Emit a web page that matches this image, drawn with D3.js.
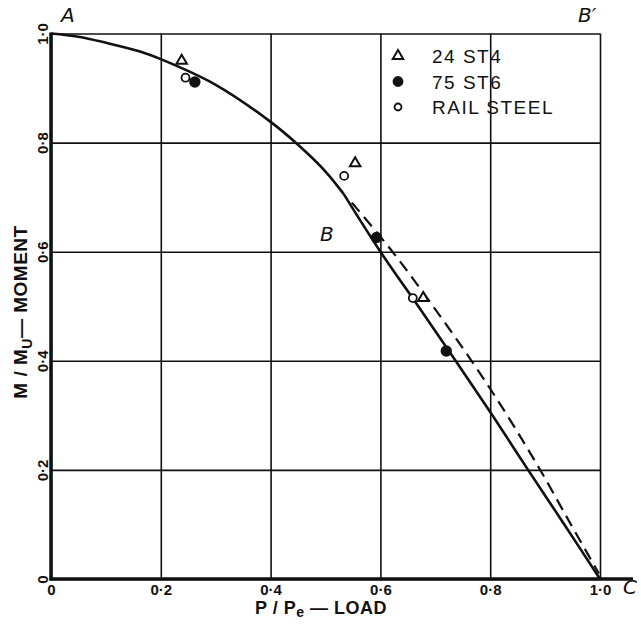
<!DOCTYPE html>
<html>
<head>
<meta charset="utf-8">
<script src="https://cdn.jsdelivr.net/npm/d3@7"></script>
<style>
  body { margin: 0; background: #fff; }
  svg { display: block; }
  text { fill: #111; }
</style>
</head>
<body>
<svg id="chart" width="641" height="624"></svg>
<script>
// tick values and labels
const xTicks = [0, 0.2, 0.4, 0.6, 0.8, 1.0];
const xTickLabels = ["0", "0·2", "0·4", "0·6", "0·8", "1·0"];
const yTicks = [0, 0.2, 0.4, 0.6, 0.8, 1.0];
const yTickLabels = ["0", "0·2", "0·4", "0·6", "0·8", "1·0"];

// interaction curve A - B (solid)
const upperX = [0, 0.05, 0.1, 0.162, 0.2, 0.3, 0.4, 0.45, 0.5, 0.533];
const upperY = [1.0, 0.994, 0.983, 0.967, 0.953, 0.906, 0.838, 0.796, 0.747, 0.706];
// B - C (solid)
const lowerX = [0.533, 0.6, 0.669, 0.737, 0.804, 0.869, 0.935, 1.0];
const lowerY = [0.706, 0.6, 0.5, 0.4, 0.3, 0.2, 0.1, 0];

// dashed branch B - C
const dashX = [0.548, 0.622, 0.696, 0.766, 0.831, 0.891, 0.947, 0.998];
const dashY = [0.69, 0.6, 0.5, 0.4, 0.3, 0.2, 0.1, 0.01];

// test points
const st4X = [0.238, 0.554, 0.678];
const st4Y = [0.950, 0.762, 0.515];
const st6X = [0.262, 0.593, 0.720];
const st6Y = [0.911, 0.626, 0.418];
const railX = [0.245, 0.534, 0.659];
const railY = [0.919, 0.739, 0.515];

const legendNames = ["24 ST4", "75 ST6", "RAIL STEEL"];

const svg = d3.select("#chart");

const x = d3.scaleLinear().domain([0, 1]).range([51, 600]);
const y = d3.scaleLinear().domain([0, 1]).range([579, 33.5]);

const gridH = y(0) - y(1);
const gridW = x(1) - x(0);
const sans = "Liberation Sans, Arial, sans-serif";

// vertical grid lines + x tick labels
const xAxis = svg.append("g")
    .attr("transform", `translate(0,${y(0)})`)
    .call(d3.axisBottom(x)
        .tickValues(xTicks)
        .tickSize(-gridH)
        .tickPadding(5)
        .tickFormat((d, i) => xTickLabels[i]));
xAxis.select(".domain").remove();
xAxis.selectAll(".tick line").attr("stroke", "#111").attr("stroke-width", 1.6);
xAxis.selectAll(".tick text")
    .attr("font-family", sans)
    .attr("font-size", 15).attr("font-weight", "bold").attr("fill", "#111");

// horizontal grid lines + y tick labels
const yAxis = svg.append("g")
    .attr("transform", `translate(${x(0)},0)`)
    .call(d3.axisLeft(y)
        .tickValues(yTicks)
        .tickSize(-gridW)
        .tickFormat((d, i) => yTickLabels[i]));
yAxis.select(".domain").remove();
yAxis.selectAll(".tick line").attr("stroke", "#111").attr("stroke-width", 1.6);
yAxis.selectAll(".tick text")
    .attr("font-family", sans)
    .attr("font-size", 15).attr("font-weight", "bold").attr("fill", "#111")
    .attr("text-anchor", "middle")
    .attr("x", null).attr("dy", null)
    .attr("transform", "translate(-3,0) rotate(-90)");

// heavy axes
svg.append("line")
    .attr("x1", x(0)).attr("x2", x(0))
    .attr("y1", y(1) - 1).attr("y2", y(0) + 1.5)
    .attr("stroke", "#111").attr("stroke-width", 3.5);
svg.append("line")
    .attr("x1", x(0) - 1.5).attr("x2", x(1.06))
    .attr("y1", y(0)).attr("y2", y(0))
    .attr("stroke", "#111").attr("stroke-width", 3.5);

// solid curve
const line = d3.line()
    .x(d => x(d[0]))
    .y(d => y(d[1]))
    .curve(d3.curveCatmullRom.alpha(0.5));

[[upperX, upperY], [lowerX, lowerY]].forEach(([xs, ys]) => {
    svg.append("path")
        .datum(xs.map((v, i) => [v, ys[i]]))
        .attr("fill", "none")
        .attr("stroke", "#111")
        .attr("stroke-width", 2.6)
        .attr("d", line);
});

// dashed branch
svg.append("path")
    .datum(dashX.map((v, i) => [v, dashY[i]]))
    .attr("fill", "none")
    .attr("stroke", "#111")
    .attr("stroke-width", 2.2)
    .attr("stroke-dasharray", "12,7")
    .attr("d", line);

// markers
const tri = d3.symbol().type(d3.symbolTriangle).size(48);

function drawSet(xs, ys, kind) {
    const g = svg.append("g");
    const pts = xs.map((v, i) => [v, ys[i]]);
    if (kind === "tri") {
        g.selectAll("path").data(pts).join("path")
            .attr("d", tri)
            .attr("transform", d => `translate(${x(d[0])},${y(d[1])})`)
            .attr("fill", "#fff").attr("stroke", "#111").attr("stroke-width", 2);
    } else {
        g.selectAll("circle").data(pts).join("circle")
            .attr("cx", d => x(d[0])).attr("cy", d => y(d[1]))
            .attr("r", kind === "dot" ? 4.8 : 4)
            .attr("fill", kind === "dot" ? "#111" : "#fff")
            .attr("stroke", "#111").attr("stroke-width", 1.8);
    }
}
drawSet(railX, railY, "ring");
drawSet(st4X, st4Y, "tri");
drawSet(st6X, st6Y, "dot");

// legend
const legend = svg.append("g").attr("transform", "translate(398,56)");
const kinds = ["tri", "dot", "ring"];
kinds.forEach((k, i) => {
    const row = legend.append("g").attr("transform", `translate(0,${i * 25.5})`);
    if (k === "tri") {
        row.append("path").attr("d", d3.symbol().type(d3.symbolTriangle).size(48))
            .attr("fill", "#fff").attr("stroke", "#111").attr("stroke-width", 2);
    } else {
        row.append("circle").attr("r", k === "dot" ? 4.5 : 3.5)
            .attr("fill", k === "dot" ? "#111" : "#fff")
            .attr("stroke", "#111").attr("stroke-width", 1.8);
    }
    row.append("text")
        .attr("x", 34).attr("y", 7)
        .attr("font-family", sans)
        .attr("font-size", 19)
        .attr("letter-spacing", 1.5)
        .text(legendNames[i]);
});

// point labels
function label(txt, px, py) {
    svg.append("text")
        .attr("x", px).attr("y", py)
        .attr("font-family", "DejaVu Sans, sans-serif")
        .attr("font-style", "italic")
        .attr("font-size", 20)
        .text(txt);
}
label("A", 61, 22);
label("B′", 578, 22);
label("B", 320, 241);
label("C", 623, 594);

// axis titles
const xTitle = svg.append("text")
    .attr("x", 321).attr("y", 614)
    .attr("text-anchor", "middle")
    .attr("font-family", sans)
    .attr("font-size", 18).attr("font-weight", "bold")
    .attr("letter-spacing", 0.5);
xTitle.append("tspan").text("P / P");
xTitle.append("tspan").attr("font-size", 14).attr("dy", 3).text("e");
xTitle.append("tspan").attr("dy", -3).text(" — LOAD");

const yTitle = svg.append("text")
    .attr("transform", "translate(27,312) rotate(-90)")
    .attr("text-anchor", "middle")
    .attr("font-family", sans)
    .attr("font-size", 19).attr("font-weight", "bold")
    .attr("letter-spacing", 0.5);
yTitle.append("tspan").text("M / M");
yTitle.append("tspan").attr("font-size", 14).attr("dy", 5).text("U");
yTitle.append("tspan").attr("dy", -5).text("— MOMENT");
</script>
</body>
</html>
